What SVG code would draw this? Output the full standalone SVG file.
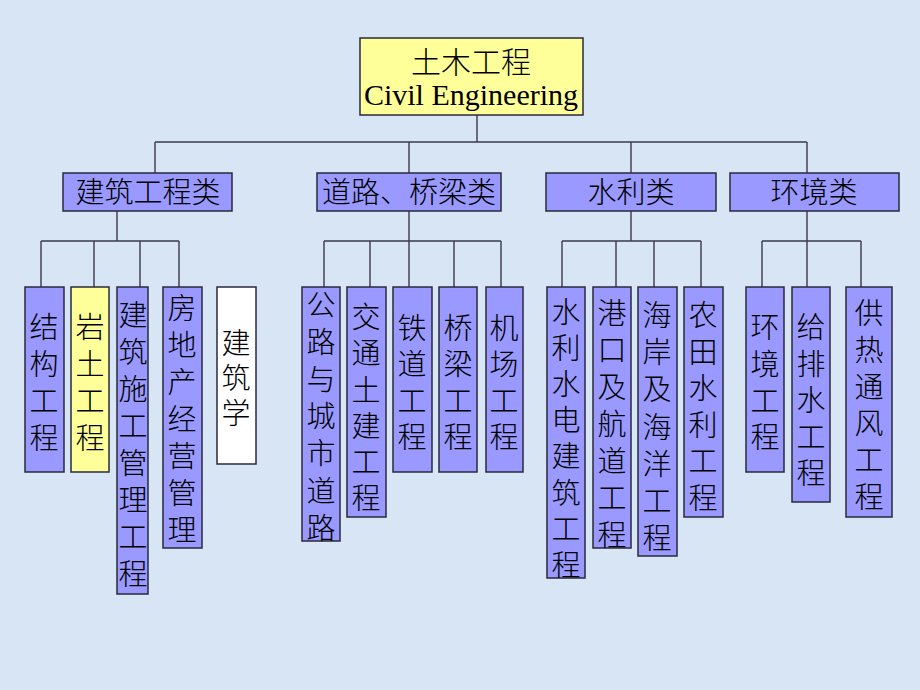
<svg xmlns="http://www.w3.org/2000/svg" width="920" height="690" viewBox="0 0 920 690">
<style>
.bg{fill:#d8e5f4}
.box{fill:#9999ff;stroke:#2a2a3a;stroke-width:1.5}
.yel{fill:#ffff99;stroke:#2a2a3a;stroke-width:1.5}
.wht{fill:#ffffff;stroke:#2a2a3a;stroke-width:1.5}
.ln{fill:none;stroke:#3a3a4a;stroke-width:1.4}
.cjk{font-family:"Noto Sans CJK SC","Noto Sans",sans-serif;font-weight:300;font-size:29px;fill:#000;text-anchor:middle}
.lat{font-family:"Liberation Serif","Times New Roman",serif;font-size:30px;fill:#000;text-anchor:middle}
</style>
<rect class="bg" x="0" y="0" width="920" height="690"/>
<g id="connectors">
<path class="ln" d="M477 115V142M155 142H807M155 142V173M409 142V173M631 142V173M807 142V173"/>
<path class="ln" d="M117 211V241M41 241H179M41 241V287M94 241V287M140 241V287M179 241V287"/>
<path class="ln" d="M409 211V241M324 241H501M324 241V287M370 241V287M409 241V287M454 241V287M501 241V287"/>
<path class="ln" d="M631 211V241M562 241H701M562 241V287M616 241V287M654 241V287M701 241V287"/>
<path class="ln" d="M807 211V241M762 241H861M762 241V287M807 241V287M861 241V287"/>
</g>
<g id="root">
<rect class="yel" x="360" y="38" width="223" height="77"/>
<text class="cjk" x="471" y="73" style="font-size:30px">土木工程</text>
<text class="lat" x="471" y="105">Civil Engineering</text>
</g>
<g id="cat-jianzhu">
<rect class="box" x="63" y="173" width="169" height="38"/>
<text class="cjk" x="148" y="203">建筑工程类</text>
</g>
<g id="cat-daolu">
<rect class="box" x="317" y="173" width="184" height="38"/>
<text class="cjk" x="409" y="203">道路、桥梁类</text>
</g>
<g id="cat-shuili">
<rect class="box" x="546" y="173" width="170" height="38"/>
<text class="cjk" x="631" y="203">水利类</text>
</g>
<g id="cat-huanjing">
<rect class="box" x="730" y="173" width="169" height="38"/>
<text class="cjk" x="814" y="203">环境类</text>
</g>
<g id="leaf-jiegou">
<rect class="box" x="25" y="287" width="39" height="185"/>
<text class="cjk" x="44 44 44 44" y="338 375 412 449">结构工程</text>
</g>
<g id="leaf-yantu">
<rect class="yel" x="71" y="287" width="38" height="185"/>
<text class="cjk" x="90 90 90 90" y="338 375 412 449">岩土工程</text>
</g>
<g id="leaf-shigong">
<rect class="box" x="117" y="287" width="31" height="307"/>
<text class="cjk" x="133 133 133 133 133 133 133 133" y="326 363 400 437 474 511 548 585">建筑施工管理工程</text>
</g>
<g id="leaf-fangdichan">
<rect class="box" x="163" y="287" width="39" height="261"/>
<text class="cjk" x="182 182 182 182 182 182 182" y="319 356 393 430 467 504 541">房地产经营管理</text>
</g>
<g id="leaf-jianzhuxue">
<rect class="wht" x="217" y="287" width="39" height="177"/>
<text class="cjk" x="236 236 236" y="354 389 424">建筑学</text>
</g>
<g id="leaf-gonglu">
<rect class="box" x="302" y="287" width="38" height="254"/>
<text class="cjk" x="321 321 321 321 321 321 321" y="316 353 390 427 464 502 539">公路与城市道路</text>
</g>
<g id="leaf-jiaotong">
<rect class="box" x="347" y="287" width="39" height="230"/>
<text class="cjk" x="366 366 366 366 366 366" y="328 364 401 437 473 509">交通土建工程</text>
</g>
<g id="leaf-tiedao">
<rect class="box" x="393" y="287" width="39" height="185"/>
<text class="cjk" x="412 412 412 412" y="339 375 412 448">铁道工程</text>
</g>
<g id="leaf-qiaoliang">
<rect class="box" x="439" y="287" width="38" height="185"/>
<text class="cjk" x="458 458 458 458" y="339 375 412 448">桥梁工程</text>
</g>
<g id="leaf-jichang">
<rect class="box" x="486" y="287" width="37" height="185"/>
<text class="cjk" x="504 504 504 504" y="339 375 412 448">机场工程</text>
</g>
<g id="leaf-shuidian">
<rect class="box" x="547" y="287" width="38" height="291"/>
<text class="cjk" x="566 566 566 566 566 566 566 566" y="323 359 395 431 467 504 540 576">水利水电建筑工程</text>
</g>
<g id="leaf-gangkou">
<rect class="box" x="593" y="287" width="38" height="261"/>
<text class="cjk" x="612 612 612 612 612 612 612" y="324 361 398 435 472 509 546">港口及航道工程</text>
</g>
<g id="leaf-haian">
<rect class="box" x="638" y="287" width="39" height="269"/>
<text class="cjk" x="657 657 657 657 657 657 657" y="326 363 400 438 475 512 549">海岸及海洋工程</text>
</g>
<g id="leaf-nongtian">
<rect class="box" x="684" y="287" width="39" height="230"/>
<text class="cjk" x="703 703 703 703 703 703" y="326 363 399 436 472 509">农田水利工程</text>
</g>
<g id="leaf-huanjing">
<rect class="box" x="746" y="287" width="38" height="185"/>
<text class="cjk" x="765 765 765 765" y="338 375 412 448">环境工程</text>
</g>
<g id="leaf-geipaishui">
<rect class="box" x="792" y="287" width="38" height="215"/>
<text class="cjk" x="811 811 811 811 811" y="338 375 411 448 484">给排水工程</text>
</g>
<g id="leaf-gongre">
<rect class="box" x="846" y="287" width="46" height="230"/>
<text class="cjk" x="869 869 869 869 869 869" y="324 361 398 434 471 508">供热通风工程</text>
</g>
</svg>
